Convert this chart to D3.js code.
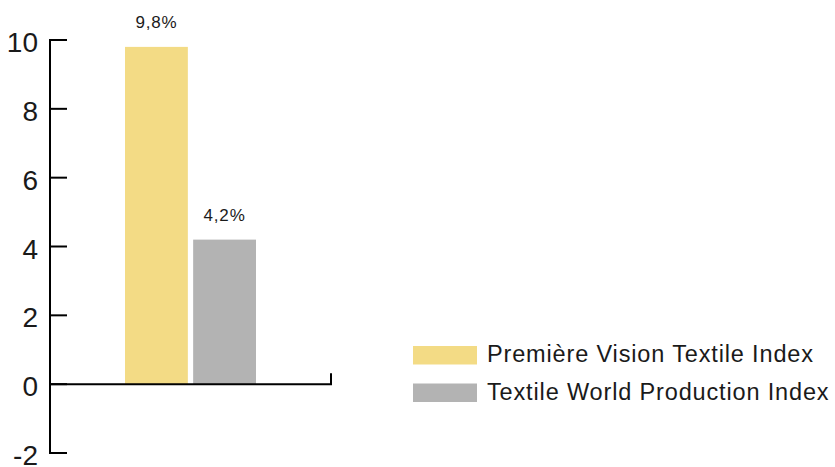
<!DOCTYPE html>
<html>
<head>
<meta charset="utf-8">
<script src="https://cdn.jsdelivr.net/npm/d3@7"></script>
<style>
  body { margin: 0; background: #fff; }
  text { font-family: "Liberation Sans", Arial, sans-serif; fill: #1a1a1a; }
</style>
</head>
<body>
<svg id="chart" width="835" height="467"></svg>
<script>
var seriesNames = ['Première Vision Textile Index', 'Textile World Production Index'];
var seriesValues = [9.8, 4.2];
var valueLabels = ['9,8%', '4,2%'];
var seriesColors = ['#f3db85', '#b3b3b3'];
var yTicks = [-2, 0, 2, 4, 6, 8, 10];

var svg = d3.select('#chart');

var y = d3.scaleLinear().domain([-2, 10]).range([453, 40]);
var x = d3.scaleBand().domain(seriesNames).range([125, 256]).paddingInner(0.078).paddingOuter(0);

// y axis line + ticks pointing right
svg.append('line')
  .attr('x1', 50).attr('x2', 50)
  .attr('y1', y(10)).attr('y2', y(-2))
  .attr('stroke', '#000').attr('stroke-width', 2);

svg.selectAll('.ytick')
  .data(yTicks)
  .enter()
  .append('line')
  .attr('x1', 49).attr('x2', 67)
  .attr('y1', d => y(d)).attr('y2', d => y(d))
  .attr('stroke', '#000').attr('stroke-width', 2);

svg.selectAll('.ylabel')
  .data(yTicks)
  .enter()
  .append('text')
  .attr('x', 38)
  .attr('y', d => y(d) + 12)
  .attr('text-anchor', 'end')
  .style('font-size', '28px')
  .text(d => d);

// bars
svg.selectAll('.bar')
  .data(seriesValues)
  .enter()
  .append('rect')
  .attr('x', (d, i) => x(seriesNames[i]))
  .attr('width', x.bandwidth())
  .attr('y', d => y(d))
  .attr('height', d => y(0) - y(d))
  .attr('fill', (d, i) => seriesColors[i]);

svg.selectAll('.vlabel')
  .data(seriesValues)
  .enter()
  .append('text')
  .attr('x', (d, i) => x(seriesNames[i]) + x.bandwidth() / 2)
  .attr('y', d => y(d) - 19)
  .attr('text-anchor', 'middle')
  .style('font-size', '17px')
  .style('letter-spacing', '0.8px')
  .text((d, i) => valueLabels[i]);

// x axis at zero
svg.append('path')
  .attr('d', 'M50,' + y(0) + 'H331V' + (y(0) - 11))
  .attr('fill', 'none')
  .attr('stroke', '#000').attr('stroke-width', 2);

// legend
var legend = svg.selectAll('.legend')
  .data(seriesNames)
  .enter()
  .append('g')
  .attr('transform', (d, i) => 'translate(413,' + (346 + i * 37.5) + ')');

legend.append('rect')
  .attr('width', 64).attr('height', 18.5)
  .attr('fill', (d, i) => seriesColors[i]);

legend.append('text')
  .attr('x', 74)
  .attr('y', 16)
  .style('font-size', '23.5px')
  .style('letter-spacing', '0.85px')
  .text(d => d);
</script>
</body>
</html>
